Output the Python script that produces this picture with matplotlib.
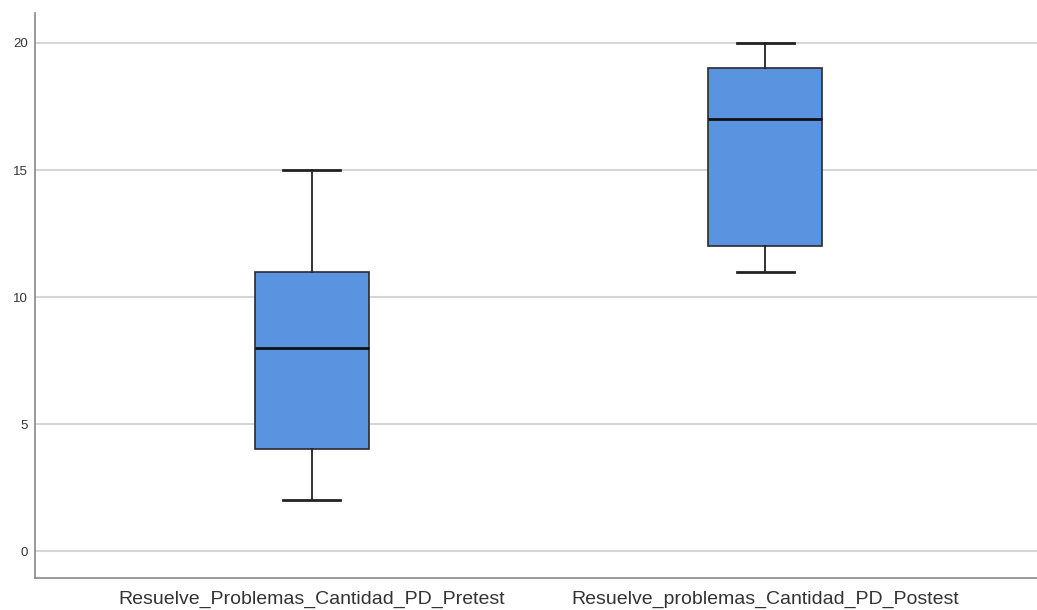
import matplotlib
matplotlib.use("Agg")
import matplotlib.pyplot as plt

plt.rcParams['font.family'] = ['Liberation Sans', 'DejaVu Sans']

categories = ["Resuelve_Problemas_Cantidad_PD_Pretest",
              "Resuelve_problemas_Cantidad_PD_Postest"]
whislo = [2, 11]
q1 = [4, 12]
med = [8, 17]
q3 = [11, 19]
whishi = [15, 20]
yticks = [0, 5, 10, 15, 20]

stats = []
for i, c in enumerate(categories):
    stats.append(dict(label=c, whislo=whislo[i], q1=q1[i], med=med[i],
                      q3=q3[i], whishi=whishi[i], fliers=[]))

fig = plt.figure(figsize=(10.37, 6.10), dpi=100)
ax = fig.add_axes([35/1037, 1-578/610, 1-35/1037, (578-13)/610])

ax.bxp(stats, positions=[1, 2], widths=0.252, patch_artist=True,
       showfliers=False, capwidths=0.126,
       boxprops=dict(facecolor="#5A93DF", edgecolor="#2b2b2b", linewidth=1.2),
       medianprops=dict(color="#111111", linewidth=2),
       whiskerprops=dict(color="#222222", linewidth=1.3),
       capprops=dict(color="#222222", linewidth=2))

ax.set_xlim(0.389, 2.60)
ax.set_ylim(-1.06, 21.18)
ax.set_yticks(yticks)
ax.set_yticklabels([str(v) for v in yticks], fontsize=9.5, color="#333333")
ax.set_xticks([1, 2])
ax.set_xticklabels(categories, fontsize=14, color="#333333")
ax.tick_params(axis='y', length=0, pad=5)
ax.tick_params(axis='x', length=0, pad=9)
ax.grid(axis='y', color="#d6d6d6", linewidth=1.5)
ax.set_axisbelow(True)
for s in ['top', 'right']:
    ax.spines[s].set_visible(False)
for s in ['left', 'bottom']:
    ax.spines[s].set_color("#888888")
    ax.spines[s].set_linewidth(1.2)

fig.savefig("out.png", dpi=100)
